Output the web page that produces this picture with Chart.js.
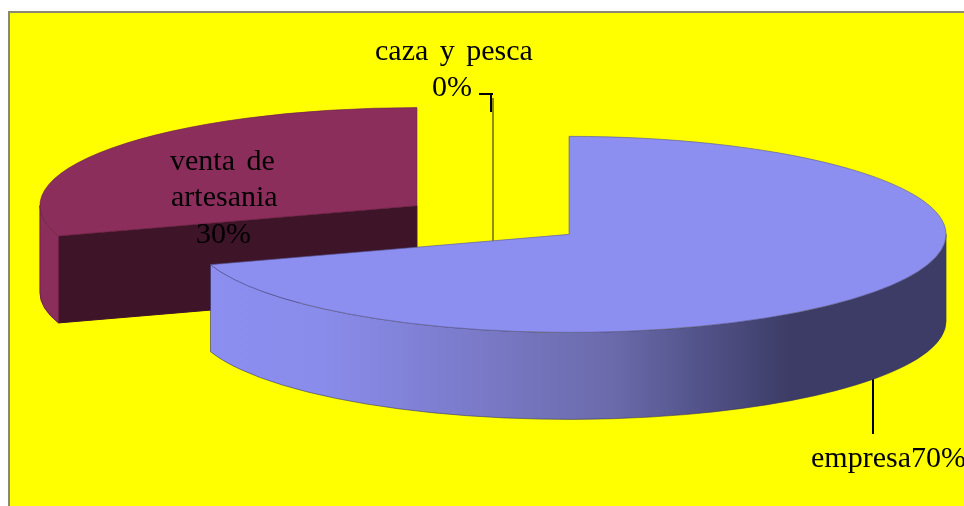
<!DOCTYPE html>
<html>
<head>
<meta charset="utf-8">
<style>html,body{margin:0;padding:0;background:#fff;overflow:hidden}canvas{display:block}</style>
<script src="https://cdn.jsdelivr.net/npm/chart.js@4/dist/chart.umd.min.js"></script>
</head>
<body>
<canvas id="c" width="964" height="506"></canvas>
<script>
const categories = ['empresa', 'venta de artesania', 'caza y pesca'];
const shares = [70, 30, 0];
const topColors = ['#8c8ef0', '#8b2e5c', '#000000'];
const edgeColors = ['#5a5a98', '#6e2249', '#000000'];
const faceColors = ['#3c3c66', '#3e1428', '#000000'];

const TILT = 0.26, DEPTH = 87, EXPLODE = 94, RADIUS = 377;
const SERIF = '"Liberation Serif", serif';

function wallFill(ctx, i) {
  if (i !== 0) return topColors[i];
  const g = ctx.createLinearGradient(211, 0, 945, 0);
  g.addColorStop(0, '#8c8ef0');
  g.addColorStop(0.15, '#8a8ceb');
  g.addColorStop(0.42, '#7575bf');
  g.addColorStop(0.55, '#6a6aab');
  g.addColorStop(0.66, '#54548c');
  g.addColorStop(0.79, '#3c3c66');
  g.addColorStop(1, '#3c3c66');
  return g;
}

const pie3d = {
  id: 'pie3d',
  beforeDraw(chart) {
    const ctx = chart.ctx;
    ctx.save();
    ctx.fillStyle = '#ffffff';
    ctx.fillRect(0, 0, 964, 506);
    ctx.fillStyle = '#8a8a70';
    ctx.fillRect(8, 11, 956, 495);
    ctx.fillStyle = '#ffff00';
    ctx.fillRect(10, 13, 954, 493);
    // leader for the empty slice
    ctx.fillStyle = '#8f8f00';
    ctx.fillRect(492, 98, 2, 144);
    ctx.fillStyle = '#000000';
    ctx.fillRect(479, 93, 14, 2);
    ctx.fillRect(490, 93, 2, 19);
    // leader for the large slice
    ctx.fillRect(872, 376, 2, 58);
    ctx.restore();
  },
  beforeDatasetsDraw(chart) {
    const ctx = chart.ctx;
    const arcs = chart.getDatasetMeta(0).data;
    const order = [1, 0];
    const place = order.map(i => {
      const a = arcs[i];
      const mid = (a.startAngle + a.endAngle) / 2;
      return {i, a, cx: a.x + EXPLODE * Math.cos(mid), cy: a.y + TILT * EXPLODE * Math.sin(mid)};
    });
    // sides first
    place.forEach(({i, a, cx, cy}) => {
      const r = a.outerRadius, ry = r * TILT;
      const s = a.startAngle, e = a.endAngle;
      ctx.save();
      // cut faces
      [[s, Math.cos(s) < -1e-6], [e, Math.cos(e) > 1e-6]].forEach(([t, show]) => {
        if (!show) return;
        const px = cx + r * Math.cos(t), py = cy + ry * Math.sin(t);
        ctx.beginPath();
        ctx.moveTo(cx, cy);
        ctx.lineTo(px, py);
        ctx.lineTo(px, py + DEPTH);
        ctx.lineTo(cx, cy + DEPTH);
        ctx.closePath();
        ctx.fillStyle = faceColors[i];
        ctx.fill();
        ctx.lineWidth = 1;
        ctx.strokeStyle = faceColors[i];
        ctx.stroke();
      });
      // curved outer wall on the near half
      const from = Math.max(s, 0), to = Math.min(e, Math.PI);
      if (to > from) {
        ctx.beginPath();
        ctx.ellipse(cx, cy, r, ry, 0, from, to, false);
        ctx.ellipse(cx, cy + DEPTH, r, ry, 0, to, from, true);
        ctx.closePath();
        ctx.fillStyle = wallFill(ctx, i);
        ctx.fill();
        ctx.lineWidth = 1;
        ctx.strokeStyle = i === 0 ? 'rgba(50,50,90,0.55)' : edgeColors[i];
        ctx.stroke();
      }
      // top surface, drawn by the library's arc element
      ctx.translate(cx, cy);
      ctx.scale(1, TILT);
      ctx.translate(-a.x, -a.y);
      a.draw(ctx);
      ctx.restore();
    });
    return false;
  },
  afterDraw(chart) {
    const ctx = chart.ctx;
    ctx.save();
    ctx.fillStyle = '#000000';
    ctx.font = '30px ' + SERIF;
    ctx.textBaseline = 'alphabetic';
    ctx.wordSpacing = '4px';
    const words = categories[1].split(' ');
    ctx.textAlign = 'left';
    ctx.fillText(categories[2], 375, 60);
    ctx.fillText(shares[2] + '%', 432, 96);
    ctx.fillText(words.slice(0, 2).join(' '), 170, 170);
    ctx.fillText(words.slice(2).join(' '), 171, 206);
    ctx.fillText(shares[1] + '%', 196, 243);
    ctx.fillText(categories[0] + shares[0] + '%', 811, 467);
    ctx.restore();
  }
};

new Chart(document.getElementById('c'), {
  type: 'pie',
  plugins: [pie3d],
  data: {
    labels: categories,
    datasets: [{
      data: shares,
      backgroundColor: topColors,
      borderColor: edgeColors,
      borderWidth: 1,
      radius: RADIUS
    }]
  },
  options: {
    responsive: false,
    animation: false,
    layout: {padding: {left: 22, bottom: 66}},
    plugins: {legend: {display: false}, tooltip: {enabled: false}, title: {display: false}}
  }
});
</script>
</body>
</html>
